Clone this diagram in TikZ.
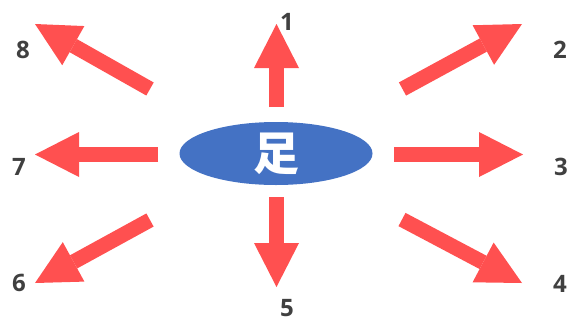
\documentclass[tikz,border=0pt]{standalone}
\usepackage{fontspec}
\setmainfont{Open Sans}
\newfontfamily\cjk{Noto Sans CJK SC}
\usetikzlibrary{arrows.meta,shapes.geometric}
\definecolor{arrowred}{RGB}{255,80,80}
\definecolor{ellblue}{RGB}{68,114,196}
\definecolor{labgray}{RGB}{64,64,64}
\tikzset{
  bigarrow/.style={draw=arrowred, line width=15pt,
    -{Triangle[length=44pt,width=45pt,line width=0pt]}},
  numlabel/.style={text=labgray, font=\fontsize{24}{24}\selectfont\bfseries, inner sep=0pt},
  center/.style={ellipse, fill=ellblue, minimum width=193pt, minimum height=63pt, inner sep=0pt,
    text=white, font=\cjk\bfseries\fontsize{46}{46}\selectfont}
}
\begin{document}
\begin{tikzpicture}[x=1pt,y=-1pt]
\useasboundingbox (0,0) rectangle (578,322);
\node[center] (c) at (276,153.5) {足};
% labels
\node[numlabel] (l1) at (287,22) {1};
\node[numlabel] (l2) at (560,50) {2};
\node[numlabel] (l3) at (561,167) {3};
\node[numlabel] (l4) at (560,284) {4};
\node[numlabel] (l5) at (287,308) {5};
\node[numlabel] (l6) at (19,283) {6};
\node[numlabel] (l7) at (19,167) {7};
\node[numlabel] (l8) at (23,50) {8};
% arrow ends
\coordinate (t1) at (276.5,107); \coordinate (h1) at (276.5,24);
\coordinate (t2) at (402.5,89);  \coordinate (h2) at (522,24);
\coordinate (t3) at (394,154.5); \coordinate (h3) at (523,154.5);
\coordinate (t4) at (402,219.5); \coordinate (h4) at (522,283);
\coordinate (t5) at (276.5,197); \coordinate (h5) at (276.5,287);
\coordinate (t6) at (150,220);   \coordinate (h6) at (35,283);
\coordinate (t7) at (158,154.5); \coordinate (h7) at (35,154.5);
\coordinate (t8) at (150,89);    \coordinate (h8) at (35,24);
\foreach \i in {1,...,8} { \draw[bigarrow] (t\i) -- (h\i); }
\end{tikzpicture}
\end{document}
